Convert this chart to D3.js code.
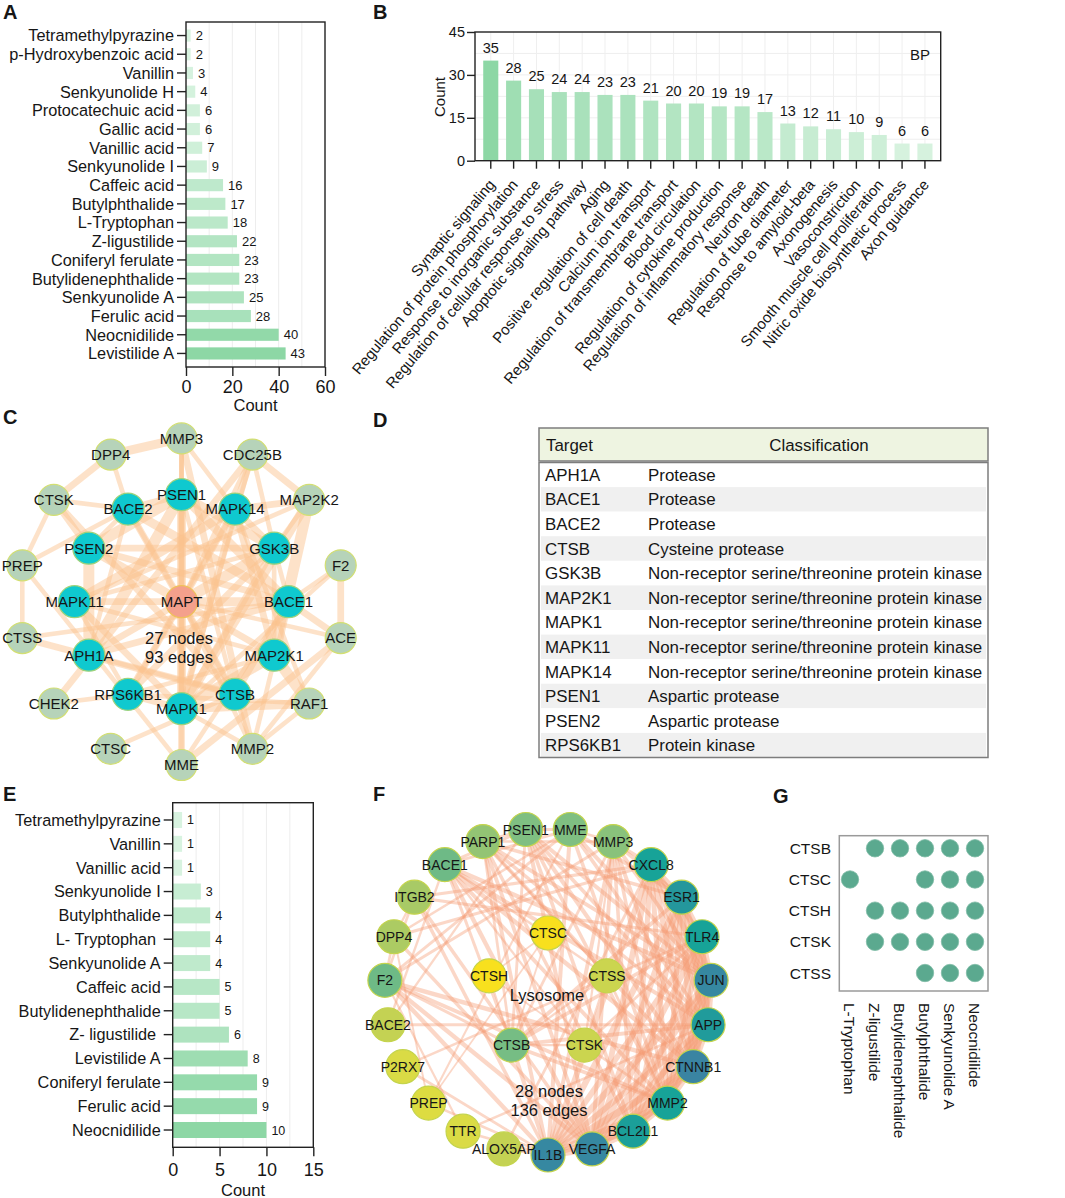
<!DOCTYPE html>
<html><head><meta charset="utf-8">
<script src="https://cdn.jsdelivr.net/npm/d3@7"></script>
<style>
body{margin:0;background:#fff;}
svg text{font-family:"Liberation Sans",Arial,Helvetica,sans-serif;fill:#161616;}
</style></head><body>
<svg id="fig" width="1065" height="1198" xmlns="http://www.w3.org/2000/svg"></svg>
<script>
// ---------------- DATA ----------------
const aCompounds = ["Tetramethylpyrazine","p-Hydroxybenzoic acid","Vanillin","Senkyunolide H","Protocatechuic acid","Gallic acid","Vanillic acid","Senkyunolide I","Caffeic acid","Butylphthalide","L-Tryptophan","Z-ligustilide","Coniferyl ferulate","Butylidenephthalide","Senkyunolide A","Ferulic acid","Neocnidilide","Levistilide A"];
const aCounts = [2,2,3,4,6,6,7,9,16,17,18,22,23,23,25,28,40,43];
const aTicks = [0,20,40,60];

const bTerms = ["Synaptic signaling","Regulation of protein phosphorylation","Response to inorganic substance","Regulation of cellular response to stress","Apoptotic signaling pathway","Aging","Positive regulation of cell death","Calcium ion transport","Regulation of transmembrane transport","Blood circulation","Regulation of cytokine production","Regulation of inflammatory response","Neuron death","Regulation of tube diameter","Response to amyloid-beta","Axonogenesis","Vasoconstriction","Smooth muscle cell proliferation","Nitric oxide biosynthetic process","Axon guidance"];
const bCounts = [35,28,25,24,24,23,23,21,20,20,19,19,17,13,12,11,10,9,6,6];
const bTicks = [0,15,30,45];

const cCenter = ["MAPT"];
const cInner = ["PSEN1","MAPK14","GSK3B","BACE1","MAP2K1","CTSB","MAPK1","RPS6KB1","APH1A","MAPK11","PSEN2","BACE2"];
const cOuter = ["MMP3","CDC25B","MAP2K2","F2","ACE","RAF1","MMP2","MME","CTSC","CHEK2","CTSS","PREP","CTSK","DPP4"];
const cLinks = [
 "MAPT:PSEN1/4,MAPK14/3,GSK3B/5,BACE1/4,MAP2K1/3,CTSB/3,MAPK1/4,RPS6KB1/3,APH1A/3,MAPK11/3,PSEN2/4,BACE2/3,CDC25B/2,MME/2,MMP2/2,MMP3/2,ACE/2",
 "PSEN1:PSEN2/5,APH1A/5,BACE1/4,BACE2/3,GSK3B/4,CTSB/2,MME/3,MMP3/2",
 "PSEN2:APH1A/5,BACE1/3,BACE2/2,GSK3B/3,CTSK/3",
 "APH1A:BACE1/3,BACE2/2,CTSB/2",
 "BACE1:BACE2/4,CTSB/3,MME/2,ACE/3,MMP2/2,GSK3B/2,CTSS/2,F2/2",
 "BACE2:CTSB/2,DPP4/2,CTSK/2,PREP/2",
 "GSK3B:MAPK1/3,MAPK14/3,MAP2K1/2,RPS6KB1/3,MAPK11/2,CDC25B/2,MAP2K2/2",
 "MAPK1:MAP2K1/5,MAPK14/3,MAPK11/3,RPS6KB1/3,MAP2K2/4,RAF1/4,MMP2/2,CDC25B/2,F2/2,MMP3/2",
 "MAPK14:MAP2K1/3,MAPK11/4,RPS6KB1/2,MAP2K2/3,RAF1/2,CDC25B/3,MMP3/2",
 "MAP2K1:MAPK11/2,RPS6KB1/2,MAP2K2/5,RAF1/5",
 "MAPK11:RPS6KB1/2,MAP2K2/2",
 "RPS6KB1:RAF1/2,CHEK2/2",
 "CTSB:CTSK/3,CTSS/3,CTSC/2,MMP2/2",
 "MMP2:MMP3/3,ACE/2,RAF1/2",
 "MME:ACE/3,PREP/2",
 "CDC25B:CHEK2/3,MAP2K2/3",
 "F2:ACE/3",
 "DPP4:MMP3/4,CTSK/3",
 "PREP:CTSS/2,CTSK/2"
];

const dTargets = ["APH1A","BACE1","BACE2","CTSB","GSK3B","MAP2K1","MAPK1","MAPK11","MAPK14","PSEN1","PSEN2","RPS6KB1"];
const dClasses = ["Protease","Protease","Protease","Cysteine protease","Non-receptor serine/threonine protein kinase","Non-receptor serine/threonine protein kinase","Non-receptor serine/threonine protein kinase","Non-receptor serine/threonine protein kinase","Non-receptor serine/threonine protein kinase","Aspartic protease","Aspartic protease","Protein kinase"];

const eCompounds = ["Tetramethylpyrazine","Vanillin","Vanillic acid","Senkyunolide I","Butylphthalide","L- Tryptophan ","Senkyunolide A","Caffeic acid","Butylidenephthalide","Z- ligustilide ","Levistilide A","Coniferyl ferulate","Ferulic acid","Neocnidilide"];
const eCounts = [1,1,1,3,4,4,4,5,5,6,8,9,9,10];
const eTicks = [0,5,10,15];

const fOuter = ["PSEN1","MME","MMP3","CXCL8","ESR1","TLR4","JUN","APP","CTNNB1","MMP2","BCL2L1","VEGFA","IL1B","ALOX5AP","TTR","PREP","P2RX7","BACE2","F2","DPP4","ITGB2","BACE1","PARP1"];
const fOuterKey = [9,9,8.5,15,16.5,15,18.5,16,19,15,15.5,18.5,18.5,5.5,4,3.8,4,5.5,10,6.8,7,10,8];
const fInner = ["CTSC","CTSS","CTSK","CTSB","CTSH"];
const fInnerKey = [2,5,5,9.5,2];
const fLinks = [
 "IL1B:CXCL8,TLR4,JUN,APP,CTNNB1,MMP2,BCL2L1,VEGFA,ESR1,ALOX5AP,TTR,PREP,P2RX7,F2,ITGB2,MMP3,PARP1,CTSB,MME",
 "VEGFA:CXCL8,TLR4,JUN,APP,CTNNB1,MMP2,BCL2L1,ESR1,F2,ITGB2,MMP3,PARP1,DPP4,BACE1,PSEN1",
 "JUN:CXCL8,TLR4,APP,CTNNB1,MMP2,BCL2L1,ESR1,PARP1,MMP3,PSEN1,BACE1,MME",
 "CTNNB1:CXCL8,TLR4,APP,MMP2,BCL2L1,ESR1,PSEN1,BACE1,PARP1,MMP3,F2",
 "APP:ESR1,TLR4,MMP2,BCL2L1,PSEN1,BACE1,BACE2,MME,CTSB,TTR,PARP1,CXCL8",
 "ESR1:CXCL8,TLR4,MMP2,BCL2L1,PARP1,MMP3,MME,CTSB",
 "CXCL8:TLR4,MMP2,BCL2L1,MMP3,ITGB2,DPP4,ALOX5AP",
 "TLR4:MMP2,BCL2L1,ITGB2,P2RX7,CTSB,CTSK",
 "MMP2:BCL2L1,MMP3,MME,F2,CTSB,CTSK,CTSS,PSEN1,BACE1",
 "BCL2L1:PARP1,PSEN1,MMP3",
 "PSEN1:BACE1,BACE2,MME,CTSB,PARP1",
 "BACE1:BACE2,MME,CTSB,CTSS,CTSK",
 "MME:MMP3,F2,DPP4,PREP",
 "MMP3:F2,CTSB,CTSK,PARP1",
 "F2:DPP4,ITGB2,CTSB,TTR",
 "PARP1:CTSB,CTSS",
 "CTSB:CTSK,CTSS,CTSC,CTSH",
 "CTSK:CTSS,CTSH",
 "CTSC:CTSH,PREP",
 "DPP4:PREP,ITGB2"
];

const gTargets = ["CTSB","CTSC","CTSH","CTSK","CTSS"];
const gCompounds = ["L-Tryptophan","Z-ligustilide","Butylidenephthalide","Butylphthalide","Senkyunolide A","Neocnidilide"];
const gMatrix = [
 [0,1,1,1,1,1],
 [1,0,0,1,1,1],
 [0,1,1,1,1,1],
 [0,1,1,1,1,1],
 [0,0,0,1,1,1]
];

// ---------------- DRAWING ----------------
const svg = d3.select("#fig");

function panelLabel(t, x, y){
  svg.append("text").attr("x", x).attr("y", y).attr("font-size", 20).attr("font-weight", "bold").text(t);
}

function hbarPanel(cfg){
  const g = svg.append("g");
  const maxT = d3.max(cfg.ticks);
  const x = d3.scaleLinear().domain([0, maxT]).range([cfg.x0, cfg.x1]);
  const y = d3.scaleBand().domain(cfg.cats).range([cfg.y0, cfg.y1]).paddingInner(cfg.pi).paddingOuter(cfg.po);
  const col = d3.scaleLinear().domain(d3.extent(cfg.vals)).range(["#d8f3e0", "#8dd7a5"]);
  g.append("g").selectAll("line").data(d3.range(cfg.grid, maxT, cfg.grid)).join("line")
    .attr("x1", d => x(d)).attr("x2", d => x(d)).attr("y1", cfg.y0).attr("y2", cfg.y1)
    .attr("stroke", "#ededed").attr("stroke-width", 1);
  g.append("g").selectAll("rect").data(cfg.cats).join("rect")
    .attr("x", x(0)).attr("y", d => y(d))
    .attr("width", (d, i) => x(cfg.vals[i]) - x(0)).attr("height", y.bandwidth())
    .attr("fill", (d, i) => col(cfg.vals[i]));
  g.append("g").selectAll("text").data(cfg.cats).join("text")
    .attr("x", (d, i) => x(cfg.vals[i]) + 5).attr("y", d => y(d) + y.bandwidth() / 2)
    .attr("dy", "0.36em").attr("font-size", cfg.valFont).text((d, i) => cfg.vals[i]);
  g.append("rect").attr("x", cfg.x0).attr("y", cfg.y0).attr("width", cfg.x1 - cfg.x0).attr("height", cfg.y1 - cfg.y0)
    .attr("fill", "none").attr("stroke", "#222").attr("stroke-width", 1.4);
  const ax = g.append("g").attr("transform", `translate(${cfg.x0},0)`)
    .call(d3.axisLeft(y).tickSize(9).tickPadding(3).tickSizeOuter(0));
  ax.select(".domain").remove();
  ax.selectAll("text").attr("font-size", cfg.catFont).style("white-space", "pre").attr("dy", "0.36em");
  ax.selectAll("line").attr("stroke", "#222").attr("stroke-width", 1.4);
  const bx = g.append("g").attr("transform", `translate(0,${cfg.y1})`)
    .call(d3.axisBottom(x).tickValues(cfg.ticks).tickSize(9).tickPadding(cfg.tp).tickSizeOuter(0));
  bx.select(".domain").remove();
  bx.selectAll("text").attr("font-size", 18);
  bx.selectAll("line").attr("stroke", "#222").attr("stroke-width", 1.4);
  g.append("text").attr("x", (cfg.x0 + cfg.x1) / 2).attr("y", cfg.countY).attr("text-anchor", "middle")
    .attr("font-size", 16.5).text("Count");
}

// Panel A
panelLabel("A", 3, 19);
hbarPanel({cats: aCompounds, vals: aCounts, ticks: aTicks, x0: 186, x1: 325, y0: 22, y1: 367,
  pi: 0.35, po: 0.4, catFont: 16.3, valFont: 13, grid: 10, tp: 4, countY: 411});

// Panel B
panelLabel("B", 373, 19);
(function(){
  const g = svg.append("g");
  const x = d3.scaleBand().domain(bTerms).range([475, 940.7]).paddingInner(0.34).paddingOuter(0.36);
  const y = d3.scaleLinear().domain([0, 45]).range([160.7, 32]);
  const col = d3.scaleLinear().domain(d3.extent(bCounts)).range(["#d6f2de", "#8dd7a5"]);
  g.append("g").selectAll("line").data(d3.range(7.5, 45, 7.5)).join("line")
    .attr("x1", 475).attr("x2", 940.7).attr("y1", d => y(d)).attr("y2", d => y(d)).attr("stroke", "#efefef");
  g.append("g").selectAll("line").data(bTerms).join("line")
    .attr("x1", d => x(d) + x.bandwidth() / 2).attr("x2", d => x(d) + x.bandwidth() / 2)
    .attr("y1", 32).attr("y2", 160.7).attr("stroke", "#efefef");
  g.append("g").selectAll("rect").data(bTerms).join("rect")
    .attr("x", d => x(d)).attr("width", x.bandwidth())
    .attr("y", (d, i) => y(bCounts[i])).attr("height", (d, i) => y(0) - y(bCounts[i]))
    .attr("fill", (d, i) => col(bCounts[i]));
  g.append("g").selectAll("text").data(bTerms).join("text")
    .attr("x", d => x(d) + x.bandwidth() / 2).attr("y", (d, i) => y(bCounts[i]) - 8)
    .attr("text-anchor", "middle").attr("font-size", 14.5).text((d, i) => bCounts[i]);
  g.append("rect").attr("x", 475).attr("y", 32).attr("width", 465.7).attr("height", 128.7)
    .attr("fill", "none").attr("stroke", "#222").attr("stroke-width", 1.4);
  const ay = g.append("g").attr("transform", "translate(475,0)")
    .call(d3.axisLeft(y).tickValues(bTicks).tickSize(8).tickPadding(2).tickSizeOuter(0));
  ay.select(".domain").remove();
  ay.selectAll("text").attr("font-size", 14.5);
  ay.selectAll("line").attr("stroke", "#222").attr("stroke-width", 1.4);
  const ax = g.append("g").attr("transform", "translate(0,160.7)")
    .call(d3.axisBottom(x).tickSize(8).tickSizeOuter(0));
  ax.select(".domain").remove();
  ax.selectAll("line").attr("stroke", "#222").attr("stroke-width", 1.4);
  ax.selectAll("text").attr("font-size", 15).attr("x", 0).attr("y", 0).attr("dy", "0.35em")
    .attr("text-anchor", "end").attr("transform", "translate(1,21) rotate(-50)");
  g.append("text").attr("transform", "translate(445,97) rotate(-90)").attr("text-anchor", "middle")
    .attr("font-size", 15).text("Count");
  g.append("text").attr("x", 930).attr("y", 60).attr("text-anchor", "end").attr("font-size", 15).text("BP");
})();

// Panel C
panelLabel("C", 3, 424);
(function(){
  const cx = 181.5, cy = 601.7, rOut = 163.3, rIn = 107;
  const pos = {};
  const aOut = d3.scaleLinear().domain([0, cOuter.length]).range([0, 2 * Math.PI]);
  const aIn = d3.scaleLinear().domain([0, cInner.length]).range([0, 2 * Math.PI]);
  cOuter.forEach((n, i) => pos[n] = {x: cx + rOut * Math.sin(aOut(i)), y: cy - rOut * Math.cos(aOut(i)), t: "outer"});
  cInner.forEach((n, i) => pos[n] = {x: cx + rIn * Math.sin(aIn(i)), y: cy - rIn * Math.cos(aIn(i)), t: "inner"});
  cCenter.forEach(n => pos[n] = {x: cx, y: cy, t: "center"});
  const links = [];
  cLinks.forEach(s => {
    const [src, rest] = s.split(":");
    rest.split(",").forEach(p => { const [t, w] = p.split("/"); links.push({s: src, t: t, w: +w}); });
  });
  const wScale = d3.scaleLinear().domain([1, 5]).range([2.5, 11]);
  const g = svg.append("g");
  g.append("g").selectAll("line").data(links).join("line")
    .attr("x1", d => pos[d.s].x).attr("y1", d => pos[d.s].y)
    .attr("x2", d => pos[d.t].x).attr("y2", d => pos[d.t].y)
    .attr("stroke", "#fbc28e").attr("stroke-opacity", 0.48).attr("stroke-width", d => wScale(d.w));
  const nodes = Object.keys(pos).map(k => ({id: k, ...pos[k]}));
  const fill = {outer: "#b6d3b9", inner: "#0fc9cf", center: "#f4a08c"};
  const stroke = {outer: "#d3df72", inner: "#9fd27a", center: "#efc15a"};
  g.append("g").selectAll("circle").data(nodes).join("circle")
    .attr("cx", d => d.x).attr("cy", d => d.y).attr("r", d => d.t === "outer" ? 15.5 : 16)
    .attr("fill", d => fill[d.t]).attr("stroke", d => stroke[d.t]).attr("stroke-width", 1.2);
  g.append("g").selectAll("text").data(nodes).join("text")
    .attr("x", d => d.x).attr("y", d => d.y).attr("dy", "0.36em").attr("text-anchor", "middle")
    .attr("font-size", 15).text(d => d.id);
  g.append("text").attr("x", 179).attr("y", 638.5).attr("dy", "0.36em").attr("text-anchor", "middle")
    .attr("font-size", 16.5).text(cOuter.length + cInner.length + cCenter.length + " nodes");
  g.append("text").attr("x", 179).attr("y", 656.7).attr("dy", "0.36em").attr("text-anchor", "middle")
    .attr("font-size", 16.5).text(links.length + " edges");
})();

// Panel D
panelLabel("D", 373, 427);
(function(){
  const g = svg.append("g");
  const x0 = 539, x1 = 988;
  g.append("rect").attr("x", x0).attr("y", 428).attr("width", x1 - x0).attr("height", 33)
    .attr("fill", "#eef4e1").attr("stroke", "#7d7d7d").attr("stroke-width", 1.5);
  g.append("text").attr("x", 546).attr("y", 445).attr("dy", "0.36em").attr("font-size", 16.9).text("Target");
  g.append("text").attr("x", 819).attr("y", 445).attr("dy", "0.36em").attr("text-anchor", "middle").attr("font-size", 16.9).text("Classification");
  const y = d3.scaleBand().domain(dTargets).range([462.5, 757.5]);
  g.append("g").selectAll("rect").data(dTargets).join("rect")
    .attr("x", x0 + 2).attr("width", x1 - x0 - 4).attr("y", d => y(d)).attr("height", y.bandwidth())
    .attr("fill", (d, i) => i % 2 ? "#f0f0f0" : "#ffffff");
  g.append("rect").attr("x", x0).attr("y", 462.5).attr("width", x1 - x0).attr("height", 295)
    .attr("fill", "none").attr("stroke", "#7d7d7d").attr("stroke-width", 1.5);
  g.append("g").selectAll("text").data(dTargets).join("text")
    .attr("x", 545).attr("y", d => y(d) + y.bandwidth() / 2).attr("dy", "0.36em").attr("font-size", 16.9).text(d => d);
  g.append("g").selectAll("text").data(dClasses).join("text")
    .attr("x", 648).attr("y", (d, i) => y(dTargets[i]) + y.bandwidth() / 2).attr("dy", "0.36em").attr("font-size", 16.9).text(d => d);
})();

// Panel E
panelLabel("E", 3, 801);
hbarPanel({cats: eCompounds, vals: eCounts, ticks: eTicks, x0: 172.7, x1: 313.3, y0: 802.7, y1: 1147.3,
  pi: 0.33, po: 0.39, catFont: 16.3, valFont: 12.5, grid: 2.5, tp: 7, countY: 1196});

// Panel F
panelLabel("F", 373, 801);
(function(){
  const cx = 548, cy = 991.5, rOut = 163.5, icx = 548, icy = 995, rIn = 62;
  const pos = {};
  const aOut = d3.scaleLinear().domain([0, fOuter.length]).range([0, 2 * Math.PI]);
  const off = -Math.PI / fOuter.length;
  const aIn = d3.scaleLinear().domain([0, fInner.length]).range([0, 2 * Math.PI]);
  fOuter.forEach((n, i) => pos[n] = {x: cx + rOut * Math.sin(aOut(i) + off), y: cy - rOut * Math.cos(aOut(i) + off), k: fOuterKey[i]});
  fInner.forEach((n, i) => pos[n] = {x: icx + rIn * Math.sin(aIn(i)), y: icy - rIn * Math.cos(aIn(i)), k: fInnerKey[i]});
  const links = [];
  fLinks.forEach(s => {
    const [src, rest] = s.split(":");
    rest.split(",").forEach(t => links.push({s: src, t: t}));
  });
  const wScale = d3.scaleLinear().domain([0, 361]).range([1.6, 7]);
  const color = d3.scaleLinear().domain([2, 4, 6, 9, 15, 19])
    .range(["#f8e01e", "#dadb45", "#bccf58", "#7fbf82", "#17a398", "#3a84a2"]);
  const g = svg.append("g");
  g.append("g").selectAll("line").data(links).join("line")
    .attr("x1", d => pos[d.s].x).attr("y1", d => pos[d.s].y)
    .attr("x2", d => pos[d.t].x).attr("y2", d => pos[d.t].y)
    .attr("stroke", "#f59a74").attr("stroke-opacity", 0.4)
    .attr("stroke-width", d => wScale(pos[d.s].k * pos[d.t].k));
  const nodes = Object.keys(pos).map(k => ({id: k, ...pos[k]}));
  g.append("g").selectAll("circle").data(nodes).join("circle")
    .attr("cx", d => d.x).attr("cy", d => d.y).attr("r", 17)
    .attr("fill", d => color(d.k)).attr("stroke", "#c4d44c").attr("stroke-width", 1.2);
  g.append("g").selectAll("text").data(nodes).join("text")
    .attr("x", d => d.x).attr("y", d => d.y).attr("dy", "0.36em").attr("text-anchor", "middle")
    .attr("font-size", 14).text(d => d.id);
  g.append("text").attr("x", 547).attr("y", 995).attr("dy", "0.36em").attr("text-anchor", "middle").attr("font-size", 16.5).text("Lysosome");
  g.append("text").attr("x", 549).attr("y", 1091.5).attr("dy", "0.36em").attr("text-anchor", "middle").attr("font-size", 16.5)
    .text(fOuter.length + fInner.length + " nodes");
  g.append("text").attr("x", 549).attr("y", 1110).attr("dy", "0.36em").attr("text-anchor", "middle").attr("font-size", 16.5)
    .text(links.length + " edges");
})();

// Panel G
panelLabel("G", 773, 803);
(function(){
  const g = svg.append("g");
  const y = d3.scalePoint().domain(gTargets).range([848.3, 973]);
  const x = d3.scalePoint().domain(gCompounds).range([850, 975]);
  g.append("rect").attr("x", 839.3).attr("y", 835.7).attr("width", 148.7).attr("height", 155.3)
    .attr("fill", "none").attr("stroke", "#9a9a9a").attr("stroke-width", 1.5);
  const cells = [];
  gTargets.forEach((t, i) => gCompounds.forEach((c, j) => { if (gMatrix[i][j]) cells.push({t, c}); }));
  g.append("g").selectAll("circle").data(cells).join("circle")
    .attr("cx", d => x(d.c)).attr("cy", d => y(d.t)).attr("r", 8.7)
    .attr("fill", "#5ba98f").attr("stroke", "#7fbba6").attr("stroke-width", 0.8);
  g.append("g").selectAll("text").data(gTargets).join("text")
    .attr("x", 831).attr("y", d => y(d)).attr("dy", "0.36em").attr("text-anchor", "end").attr("font-size", 15.5).text(d => d);
  g.append("g").selectAll("text").data(gCompounds).join("text")
    .attr("transform", d => `translate(${x(d)},1003) rotate(90)`).attr("dy", "0.36em")
    .attr("font-size", 15.5).text(d => d);
})();
</script>
</body></html>
